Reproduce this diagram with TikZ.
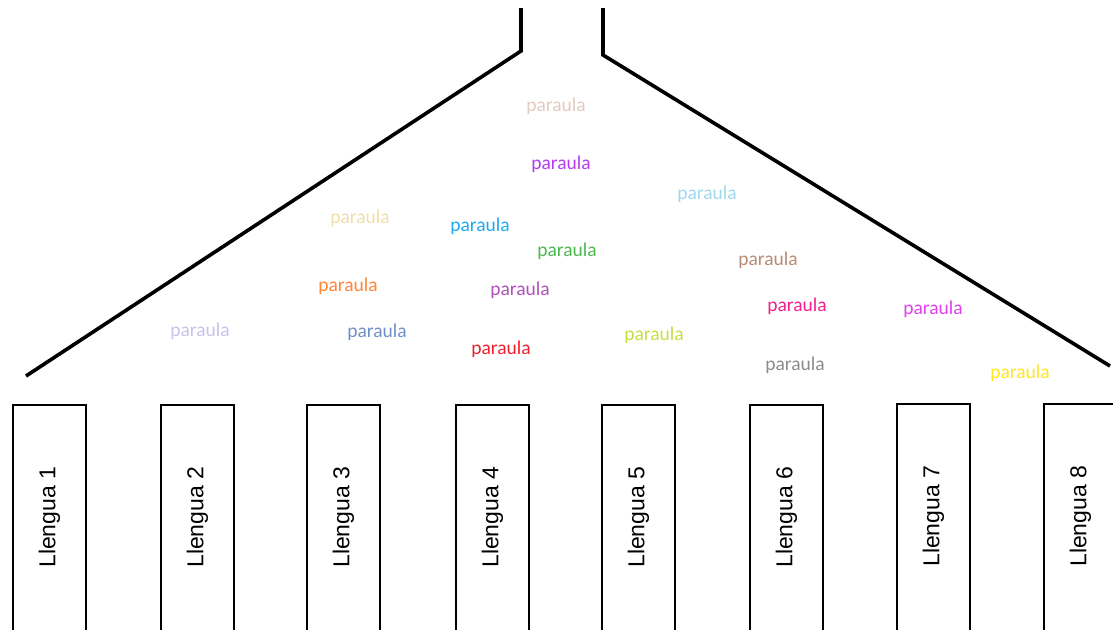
\documentclass[tikz,border=0pt]{standalone}
\usepackage{fontspec}
\setmainfont{Liberation Sans}
\newfontfamily\calib{Carlito}
\begin{document}
\begin{tikzpicture}[x=1pt,y=-1pt,
  funnel/.style={line width=3.6pt,line join=miter},
  lbox/.style={draw,line width=2.4pt,minimum width=73pt,minimum height=232pt,inner sep=0pt},
  ltext/.style={rotate=90,font=\fontsize{23}{26}\selectfont,inner sep=0pt},
  word/.style={font=\calib\fontsize{19.5}{22}\selectfont,inner sep=0pt}]
\useasboundingbox (0,0) rectangle (1113,629);
\clip (0,0) rectangle (1113,629);
% funnel
\coordinate (la) at (26,376);
\coordinate (lb) at (521,51);
\coordinate (lc) at (521,8);
\coordinate (ra) at (603,8);
\coordinate (rb) at (603,55);
\coordinate (rc) at (1110,366);
\draw[funnel] (la) -- (lb) -- (lc);
\draw[funnel] (ra) -- (rb) -- (rc);
% boxes
\foreach \i/\x/\t in {1/49.5/404,2/197.5/404,3/343.5/404,4/492.5/404,5/638.5/404,6/786.5/404,7/933.5/403,8/1080.5/403}{
  \node[lbox,anchor=north] (b\i) at (\x,\t) {};
  \node[ltext] (t\i) at ([yshift=4pt]b\i.center) {Llengua \i};
}
% words
\definecolor{w1}{HTML}{E3CABF}
\definecolor{w2}{HTML}{B43CF0}
\definecolor{w3}{HTML}{A2D8EE}
\definecolor{w4}{HTML}{F0DEAA}
\definecolor{w5}{HTML}{1FAAF0}
\definecolor{w6}{HTML}{4CB850}
\definecolor{w7}{HTML}{B88C72}
\definecolor{w8}{HTML}{FF8535}
\definecolor{w9}{HTML}{B050BC}
\definecolor{w10}{HTML}{F5208C}
\definecolor{w11}{HTML}{E040F0}
\definecolor{w12}{HTML}{C8C2EA}
\definecolor{w13}{HTML}{7090C8}
\definecolor{w14}{HTML}{C2E040}
\definecolor{w15}{HTML}{F02030}
\definecolor{w16}{HTML}{8C8C8C}
\definecolor{w17}{HTML}{FFE620}
\foreach \n/\x/\y in {1/556/106,2/561/164,3/707/194,4/360/218,5/480/226,6/567/251,7/768/260,8/348/286,9/520/290,10/797/306,11/933/309,12/200/331,13/377/332,14/654/335,15/501/349,16/795/365,17/1020/373}{
  \node[word,text=w\n] (p\n) at (\x,\y) {paraula};
}
\end{tikzpicture}
\end{document}
